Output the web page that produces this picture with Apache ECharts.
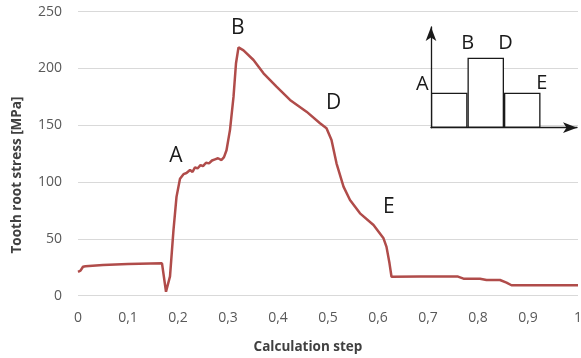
<!DOCTYPE html>
<html><head><meta charset="utf-8">
<script src="https://cdn.jsdelivr.net/npm/echarts@6/dist/echarts.min.js"></script>
<style>html,body{margin:0;padding:0;background:#fff}#c{width:581px;height:358px}</style>
</head><body><div id="c"></div>
<script>
// Calculation step (x) and tooth root stress in MPa (y)
const stepX = [0,0.005,0.01,0.015,0.05,0.1,0.168,0.176,0.184,0.191,0.197,0.204,0.211,0.217,0.224,0.229,0.234,0.239,0.245,0.25,0.256,0.262,0.268,0.274,0.28,0.287,0.292,0.297,0.304,0.311,0.316,0.321,0.331,0.351,0.371,0.397,0.424,0.457,0.484,0.497,0.507,0.517,0.531,0.544,0.564,0.591,0.611,0.617,0.623,0.627,0.684,0.76,0.771,0.804,0.817,0.844,0.857,0.867,1.0];
const stress = [21,22,25.5,26,27,27.8,28.5,3.5,17,58,87,103,107,108,110.6,109,113,112,115,114,117,116.5,119,120,121,119.4,122,128,146,175,204.6,218.6,216,207.5,195.8,184,172.3,162,151.8,147.4,137,116.5,96,84.2,72.5,62.2,50.5,43,28.5,16.7,16.8,16.8,15,15,13.8,13.8,11.5,9.2,9.2];
const yTicks = [0,50,100,150,200,250];
const xTicks = [0,0.1,0.2,0.3,0.4,0.5,0.6,0.7,0.8,0.9,1];
// annotation letters in data coordinates
const markNames = ['A','B','D','E'];
const markX = [0.1956,0.3194,0.5114,0.6216];
const markY = [123.2,235.6,169.4,78.3];
// inset schematic
const insetCats = ['1','2','3','4'];
const insetVals = [1,2,1,null];
const insetNames = ['A','B','D','E'];

const chart = echarts.init(document.getElementById('c'), null, {renderer:'canvas'});
const font = "'Open Sans', sans-serif";
const letterFont = "20px 'Open Sans', sans-serif";
chart.setOption({
  animation:false,
  backgroundColor:'#fff',
  grid:[
    {left:78, right:3, top:11.7, bottom:62.3, containLabel:false, outerBoundsMode:'none'},
    {left:431, top:27, width:146, height:100.7, containLabel:false, outerBoundsMode:'none'}
  ],
  xAxis:[
    {gridIndex:0, type:'value', min:xTicks[0], max:xTicks[xTicks.length-1], interval:0.1,
     axisLine:{show:false}, axisTick:{show:false}, splitLine:{show:false},
     axisLabel:{color:'#595959', fontFamily:font, fontSize:14, margin:15,
       formatter:v=>String(+v.toFixed(1)).replace('.',',')}},
    {gridIndex:1, type:'category', data:insetCats, boundaryGap:true,
     axisLine:{show:true, symbol:['none','arrow'], symbolSize:[8,14], lineStyle:{color:'#1a1a1a', width:1.3}},
     axisTick:{show:false}, axisLabel:{show:false}, splitLine:{show:false}}
  ],
  yAxis:[
    {gridIndex:0, type:'value', min:yTicks[0], max:yTicks[yTicks.length-1], interval:50,
     axisLine:{show:false}, axisTick:{show:false},
     splitLine:{lineStyle:{color:'#d9d9d9', width:1}},
     axisLabel:{color:'#595959', fontFamily:font, fontSize:14, margin:16}},
    {gridIndex:1, type:'value', min:0, max:2.88,
     axisLine:{show:true, symbol:['none','arrow'], symbolSize:[8,14], lineStyle:{color:'#1a1a1a', width:1.3}},
     axisTick:{show:false}, axisLabel:{show:false}, splitLine:{show:false}}
  ],
  series:[
    {type:'line', xAxisIndex:0, yAxisIndex:0, showSymbol:false, symbol:'none',
     data: stepX.map((x,i)=>[x,stress[i]]),
     lineStyle:{color:'#b04c4a', width:2.5},
     markPoint:{symbol:'circle', symbolSize:0,
       label:{show:true, formatter:p=>p.name, color:'#1a1a1a', fontFamily:font, fontSize:21, position:'inside'},
       data: markNames.map((n,i)=>({name:n, coord:[markX[i], markY[i]]}))}},
    {type:'bar', xAxisIndex:1, yAxisIndex:1, data:insetVals, barCategoryGap:'0%',
     itemStyle:{color:'#fff', borderColor:'#1a1a1a', borderWidth:1.3}}
  ],
  graphic:[
    {type:'text', x:17, y:175, rotation:Math.PI/2,
     style:{text:'Tooth root stress [MPa]', fill:'#404040', font:"bold 13.5px 'Open Sans', sans-serif", align:'center', verticalAlign:'middle'}},
    {type:'text', x:308, y:347,
     style:{text:'Calculation step', fill:'#404040', font:"bold 13.5px 'Open Sans', sans-serif", align:'center', verticalAlign:'middle'}},
    {type:'text', x:422.2, y:83.8, style:{text:insetNames[0], fill:'#1a1a1a', font:letterFont, align:'center', verticalAlign:'middle'}},
    {type:'text', x:467.8, y:43.3, style:{text:insetNames[1], fill:'#1a1a1a', font:letterFont, align:'center', verticalAlign:'middle'}},
    {type:'text', x:505.5, y:43.3, style:{text:insetNames[2], fill:'#1a1a1a', font:letterFont, align:'center', verticalAlign:'middle'}},
    {type:'text', x:541.7, y:83.3, style:{text:insetNames[3], fill:'#1a1a1a', font:letterFont, align:'center', verticalAlign:'middle'}}
  ]
});
</script></body></html>
